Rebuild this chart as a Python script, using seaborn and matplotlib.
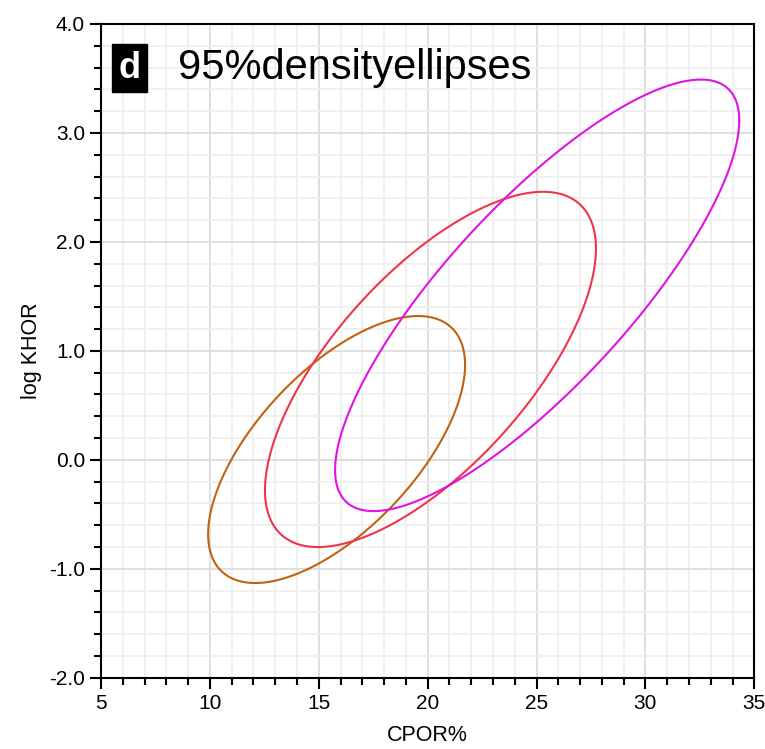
import numpy as np
import pandas as pd
import seaborn as sns
import matplotlib.pyplot as plt
from matplotlib.ticker import MultipleLocator, FormatStrFormatter

# ellipse parameters (95% density ellipses)
groups = ['A', 'B', 'C']
center_x = [15.82, 20.13, 25.03]
center_y = [0.095, 0.83, 1.51]
half_x = [5.90, 7.60, 9.28]      # half width in CPOR%
half_y = [1.225, 1.63, 1.98]     # half height in log KHOR
rho = [0.634, 0.68, 0.81]
colors = ['#C2620E', '#F0344C', '#E014E0']

t = np.linspace(0, 2 * np.pi, 400)
rows = []
for g, cx, cy, hx, hy, r in zip(groups, center_x, center_y, half_x, half_y, rho):
    xs = cx + hx * np.cos(t)
    ys = cy + hy * (r * np.cos(t) + np.sqrt(1 - r ** 2) * np.sin(t))
    rows.append(pd.DataFrame({'CPOR': xs, 'logKHOR': ys, 'group': g}))
df = pd.concat(rows, ignore_index=True)

sns.set_style('white')
plt.rcParams['font.family'] = ['Liberation Sans', 'DejaVu Sans']
plt.rcParams['text.color'] = 'black'
plt.rcParams['axes.labelcolor'] = 'black'
plt.rcParams['xtick.color'] = 'black'
plt.rcParams['ytick.color'] = 'black'

fig = plt.figure(figsize=(7.65, 7.49), dpi=100)
ax = fig.add_axes([0.132, 0.095, 0.854, 0.873])

sns.lineplot(data=df, x='CPOR', y='logKHOR', hue='group', palette=colors,
             sort=False, estimator=None, units='group', linewidth=1.5,
             legend=False, ax=ax)

ax.set_xlim(5, 35)
ax.set_ylim(-2, 4)
ax.xaxis.set_major_locator(MultipleLocator(5))
ax.xaxis.set_minor_locator(MultipleLocator(1))
ax.yaxis.set_major_locator(MultipleLocator(1))
ax.yaxis.set_minor_locator(MultipleLocator(0.2))
ax.yaxis.set_major_formatter(FormatStrFormatter('%.1f'))

ax.grid(which='major', color='#dcdcdc', linewidth=1.3)
ax.grid(which='minor', color='#efefef', linewidth=1.3)
ax.set_axisbelow(True)

for s in ax.spines.values():
    s.set_color('black')
    s.set_linewidth(1.5)

ax.tick_params(which='major', direction='out', length=8, width=1.5, labelsize=15,
               bottom=True, left=True, color='black')
ax.tick_params(which='minor', direction='out', length=5, width=1.5,
               bottom=True, left=True, color='black')

ax.set_xlabel('CPOR%', fontsize=15.5, labelpad=9)
ax.set_ylabel('log KHOR', fontsize=15.5, labelpad=5)

ax.text(0.027, 0.932, 'd', transform=ax.transAxes, fontsize=26, color='white',
        fontweight='bold', ha='left', va='center',
        bbox=dict(boxstyle='square,pad=0.18', facecolor='black', edgecolor='black'))
ax.text(0.118, 0.933, '95%densityellipses', transform=ax.transAxes, fontsize=30,
        ha='left', va='center')

fig.savefig('out.png', dpi=100)
